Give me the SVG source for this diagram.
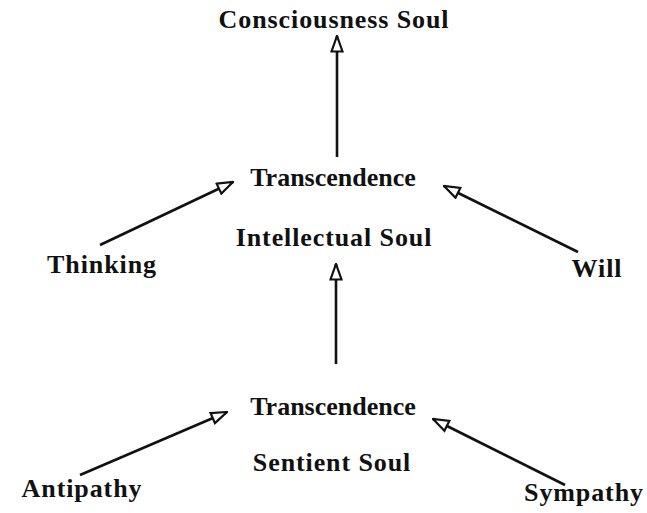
<svg xmlns="http://www.w3.org/2000/svg" width="647" height="513" viewBox="0 0 647 513">
<style>
text{font-family:"Liberation Serif","DejaVu Serif",serif;font-weight:bold;font-size:26px;letter-spacing:0.9px;fill:#111;text-anchor:middle}
text.n{letter-spacing:0}
.c{stroke:#111;stroke-width:2.6;fill:none;marker-end:url(#ah)}
</style>
<defs>
<marker id="ah" viewBox="0 0 18 14" refX="17" refY="7" markerWidth="18" markerHeight="14" markerUnits="userSpaceOnUse" orient="auto">
<path d="M1.5,1.5 L17,7 L1.5,12.5 Z" fill="#fff" stroke="#111" stroke-width="2.2"/>
</marker>
</defs>
<rect width="647" height="513" fill="#fff"/>
<g id="connectors">
<line class="c" x1="337" y1="157" x2="337" y2="36"/>
<line class="c" x1="100" y1="245" x2="233" y2="182"/>
<line class="c" x1="578" y1="252" x2="444" y2="186"/>
<line class="c" x1="336" y1="364" x2="336" y2="264"/>
<line class="c" x1="80" y1="475" x2="227" y2="412"/>
<line class="c" x1="565" y1="485" x2="433" y2="419"/>
</g>
<g id="consciousness"><text x="334" y="28">Consciousness Soul</text></g>
<g id="transcendence1"><text class="n" x="333" y="186">Transcendence</text></g>
<g id="intellectual"><text x="334" y="246">Intellectual Soul</text></g>
<g id="thinking"><text x="102" y="273">Thinking</text></g>
<g id="will"><text x="597" y="277">Will</text></g>
<g id="transcendence2"><text class="n" x="333" y="415">Transcendence</text></g>
<g id="sentient"><text x="332" y="471">Sentient Soul</text></g>
<g id="antipathy"><text x="82" y="497">Antipathy</text></g>
<g id="sympathy"><text x="584" y="501">Sympathy</text></g>
</svg>
